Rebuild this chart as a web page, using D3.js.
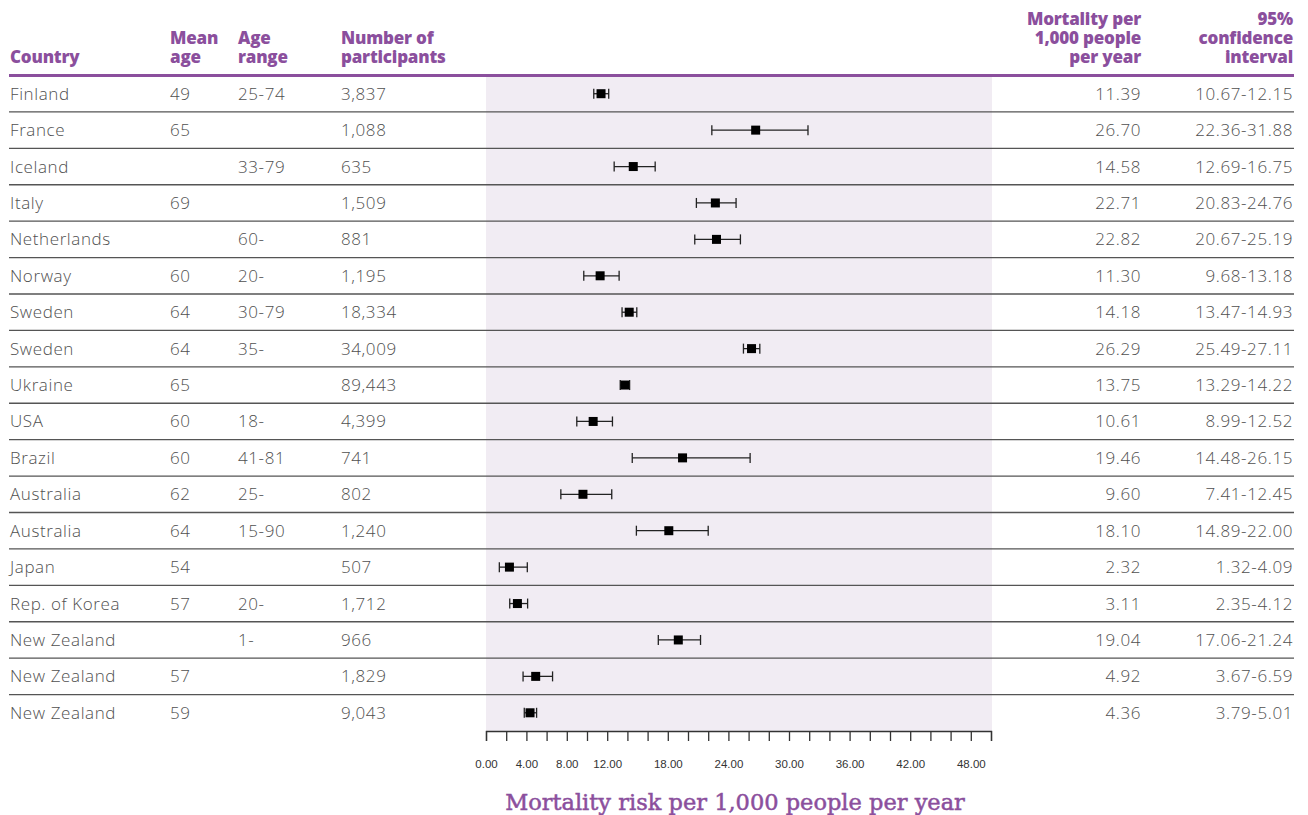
<!DOCTYPE html>
<html><head><meta charset="utf-8">
<script src="https://cdn.jsdelivr.net/npm/d3@7"></script>
<style>
html,body{margin:0;padding:0;background:#fff;}
</style></head>
<body>
<svg id="chart" width="1308" height="815"></svg>
<script>
const countries = ["Finland","France","Iceland","Italy","Netherlands","Norway","Sweden","Sweden","Ukraine","USA","Brazil","Australia","Australia","Japan","Rep. of Korea","New Zealand","New Zealand","New Zealand"];
const meanAge = ["49","65","","69","","60","64","64","65","60","60","62","64","54","57","","57","59"];
const ageRange = ["25-74","","33-79","","60-","20-","30-79","35-","","18-","41-81","25-","15-90","","20-","1-","",""];
const participants = ["3,837","1,088","635","1,509","881","1,195","18,334","34,009","89,443","4,399","741","802","1,240","507","1,712","966","1,829","9,043"];
const mortality = [11.39,26.70,14.58,22.71,22.82,11.30,14.18,26.29,13.75,10.61,19.46,9.60,18.10,2.32,3.11,19.04,4.92,4.36];
const ciLow = [10.67,22.36,12.69,20.83,20.67,9.68,13.47,25.49,13.29,8.99,14.48,7.41,14.89,1.32,2.35,17.06,3.67,3.79];
const ciHigh = [12.15,31.88,16.75,24.76,25.19,13.18,14.93,27.11,14.22,12.52,26.15,12.45,22.00,4.09,4.12,21.24,6.59,5.01];
const tickMarks = d3.range(0, 51, 2);
const tickLabels = [0,4,8,12,18,24,30,36,42,48];
const axisTitle = "Mortality risk per 1,000 people per year";

const purple = "#8b4f9d";
const textCol = "#505050";
const svg = d3.select("#chart");

const x = d3.scaleLinear().domain([0, 50]).range([486, 991]);
const y = d3.scaleBand().domain(d3.range(countries.length)).range([75.5, 731]);

// background panel
svg.append("rect").attr("x", x(0)).attr("y", 77).attr("width", x(50) - x(0) + 1).attr("height", 731 - 77)
  .attr("fill", "#f1ecf3");

// header
const hdr = svg.append("g").attr("font-family", "'Open Sans', Lato, sans-serif").attr("font-weight", 800)
  .attr("font-size", 17).attr("fill", purple).attr("letter-spacing", -0.2);
function header(lines, xp, anchor) {
  const base = 63 - (lines.length - 1) * 19;
  const t = hdr.append("text").attr("x", xp).attr("y", base).attr("text-anchor", anchor);
  lines.forEach((l, i) => t.append("tspan").attr("x", xp).attr("y", base + i * 19).text(l));
}
header(["Country"], 10, "start");
header(["Mean", "age"], 170, "start");
header(["Age", "range"], 238, "start");
header(["Number of", "participants"], 341, "start");
header(["Mortality per", "1,000 people", "per year"], 1141, "end");
header(["95%", "confidence", "interval"], 1293, "end");

svg.append("line").attr("x1", 9).attr("x2", 1294).attr("y1", 75.5).attr("y2", 75.5)
  .attr("stroke", purple).attr("stroke-width", 3);

// separators
const idx = d3.range(countries.length);
svg.append("g").selectAll("line").data(idx.slice(0, -1)).join("line")
  .attr("x1", 9).attr("x2", 1294)
  .attr("y1", i => y(i) + y.bandwidth()).attr("y2", i => y(i) + y.bandwidth())
  .attr("stroke", "#555").attr("stroke-width", 1.4);

// row text
const rows = svg.append("g").attr("font-family", "'Open Sans', 'Noto Sans', sans-serif").attr("font-size", 17)
  .attr("font-weight", 300).attr("letter-spacing", 0.6).attr("fill", textCol);
const cy = i => y(i) + y.bandwidth() / 2 + 6;
function col(arr, xp, anchor) {
  rows.append("g").selectAll("text").data(idx).join("text")
    .attr("x", xp).attr("y", cy).attr("text-anchor", anchor).text(i => arr[i]);
}
col(countries, 10, "start");
col(meanAge, 170, "start");
col(ageRange, 238, "start");
col(participants, 341, "start");
col(mortality.map(v => v.toFixed(2)), 1141, "end");
col(idx.map(i => ciLow[i].toFixed(2) + "-" + ciHigh[i].toFixed(2)), 1293, "end");

// error bars
const mid = i => y(i) + y.bandwidth() / 2;
const eb = svg.append("g").attr("stroke", "#222").attr("stroke-width", 1.3);
eb.selectAll("line.h").data(idx).join("line").attr("class", "h")
  .attr("x1", i => x(ciLow[i])).attr("x2", i => x(ciHigh[i])).attr("y1", mid).attr("y2", mid);
eb.selectAll("line.l").data(idx).join("line").attr("class", "l")
  .attr("x1", i => x(ciLow[i])).attr("x2", i => x(ciLow[i])).attr("y1", i => mid(i) - 5).attr("y2", i => mid(i) + 5);
eb.selectAll("line.r").data(idx).join("line").attr("class", "r")
  .attr("x1", i => x(ciHigh[i])).attr("x2", i => x(ciHigh[i])).attr("y1", i => mid(i) - 5).attr("y2", i => mid(i) + 5);
svg.append("g").selectAll("rect").data(idx).join("rect")
  .attr("x", i => x(mortality[i]) - 4.5).attr("y", i => mid(i) - 4.5).attr("width", 9).attr("height", 9).attr("fill", "#000");

// axis
const ax1 = svg.append("g").attr("transform", "translate(0,731)")
  .call(d3.axisBottom(x).tickValues(tickMarks).tickSize(10).tickFormat(""));
ax1.select(".domain").attr("stroke", "#333").attr("stroke-width", 1.3);
ax1.selectAll(".tick line").attr("stroke", "#333").attr("stroke-width", 1.3);
const ax2 = svg.append("g").attr("transform", "translate(0,731)")
  .call(d3.axisBottom(x).tickValues(tickLabels).tickSize(0).tickPadding(29).tickFormat(d3.format(".2f")));
ax2.select(".domain").remove();
ax2.selectAll("text").attr("font-family", "'Liberation Sans', Arial, sans-serif").attr("font-size", 11.5).attr("fill", "#333");

svg.append("text").attr("x", 735).attr("y", 810).attr("text-anchor", "middle")
  .attr("font-family", "'DejaVu Serif', serif").attr("font-size", 22.5).attr("fill", purple)
  .attr("stroke", purple).attr("stroke-width", 0.5)
  .text(axisTitle);
</script>
</body></html>
